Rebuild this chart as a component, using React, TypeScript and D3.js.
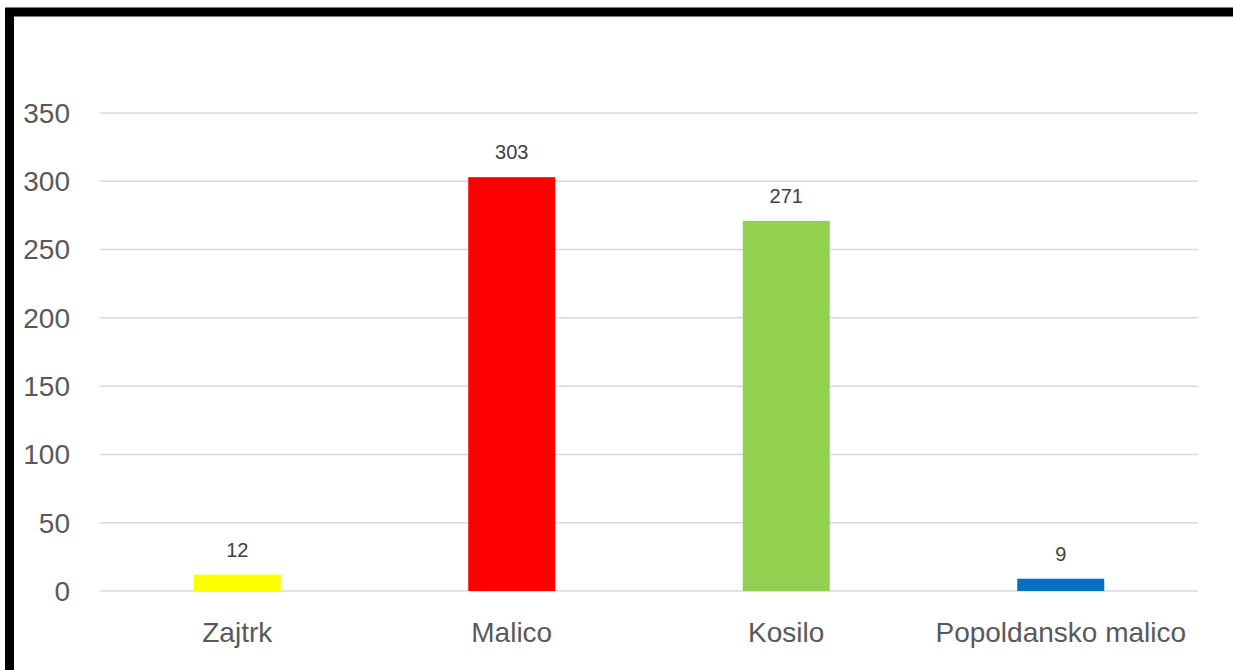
import React from "react";
import * as d3 from "d3";

const categories = ["Zajtrk", "Malico", "Kosilo", "Popoldansko malico"];
const values = [12, 303, 271, 9];
const colors = ["#FFFF00", "#FF0000", "#92D050", "#0070C0"];
const yTicks = [0, 50, 100, 150, 200, 250, 300, 350];

export default function App() {
  const W = 1233, H = 670;
  const left = 100, right = 1198, top = 113, bottom = 591;
  const x = d3.scaleBand<string>().domain(categories).range([left, right]).paddingInner(0.683).paddingOuter(0.3415);
  const y = d3.scaleLinear().domain([0, 350]).range([bottom, top]);
  const font = "'Liberation Sans', Arial, sans-serif";
  return (
    <svg width={W} height={H} style={{ position: "absolute", left: 0, top: 0, display: "block" }}>
      <rect x={0} y={0} width={W} height={H} fill="#fff" />
      <rect x={9.5} y={12} width={3000} height={3000} fill="none" stroke="#000" strokeWidth={9} />
      {yTicks.map((t) => (
        <g key={t}>
          <line x1={left} x2={right} y1={y(t)} y2={y(t)} stroke="#d9d9d9" strokeWidth={1.5} />
          <text x={70} y={y(t)} dy="0.35em" textAnchor="end" fontFamily={font} fontSize={28} fill="#595959">{t}</text>
        </g>
      ))}
      {categories.map((c, i) => (
        <g key={c}>
          <rect x={x(c)} y={y(values[i])} width={x.bandwidth()} height={y(0) - y(values[i])} fill={colors[i]} />
          <text x={(x(c) as number) + x.bandwidth() / 2} y={y(values[i]) - 18} textAnchor="middle" fontFamily={font} fontSize={20} fill="#404040">{values[i]}</text>
          <text x={(x(c) as number) + x.bandwidth() / 2} y={642} textAnchor="middle" fontFamily={font} fontSize={28} fill="#595959">{c}</text>
        </g>
      ))}
    </svg>
  );
}
